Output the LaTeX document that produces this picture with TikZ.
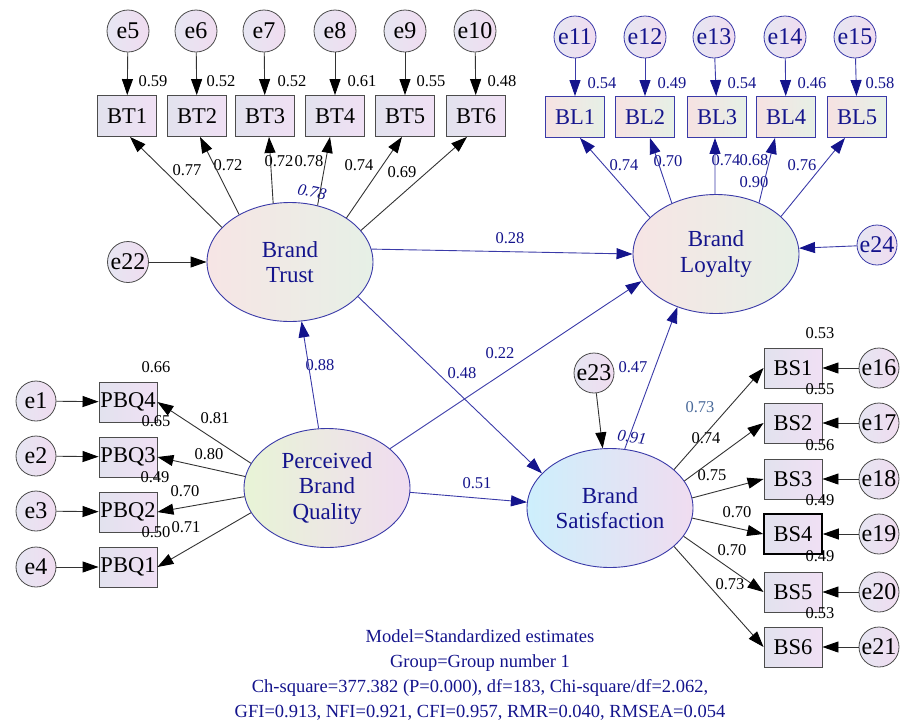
\documentclass[tikz,border=0pt]{standalone}
\usepackage{fontspec}
\setmainfont{Liberation Serif}
\usetikzlibrary{arrows.meta,shapes.geometric}
\definecolor{navy}{HTML}{14148C}
\definecolor{pathblue}{HTML}{3A3AA8}
\definecolor{gline}{HTML}{333333}
\definecolor{bluegray}{HTML}{4A6A9A}
\definecolor{errL}{HTML}{E6E6F2}
\definecolor{errR}{HTML}{F0DCF0}
\definecolor{obsL}{HTML}{E2E2EE}
\definecolor{obsR}{HTML}{F0E0F4}
\definecolor{blL}{HTML}{F6E2E2}
\definecolor{blR}{HTML}{E6F0E6}
\definecolor{pbqL}{HTML}{E8F4D6}
\definecolor{bsL}{HTML}{CDEFFC}
\tikzset{
 err/.style={circle,draw=black!70,line width=0.8pt,minimum size=42pt,inner sep=0pt,left color=errL,right color=errR,font=\fontsize{24}{26}\selectfont},
 errb/.style={err,draw=pathblue,text=navy},
 obs/.style={rectangle,draw=black!70,line width=0.9pt,minimum width=59pt,minimum height=41pt,inner sep=0pt,left color=obsL,right color=obsR,font=\fontsize{22.5}{24}\selectfont},
 obsb/.style={obs,draw=pathblue,text=navy,left color=blL,right color=blR},
 lat/.style={ellipse,draw=pathblue,line width=0.9pt,minimum width=166pt,minimum height=119pt,inner sep=0pt,text=navy,align=center,font=\fontsize{23}{25.5}\selectfont},
 num/.style={font=\fontsize{16.5}{18}\selectfont,inner sep=0pt},
 numb/.style={num,text=navy},
 blk/.style={draw=gline,line width=0.9pt,-{Triangle[length=16pt,width=11pt,color=black]}},
 blu/.style={draw=pathblue,line width=0.9pt,-{Triangle[length=16pt,width=11pt,color=navy]}},
}
\begin{document}
\begin{tikzpicture}[x=1pt,y=-1pt]
\useasboundingbox (0,0) rectangle (906,721);
% latent variables
\node[lat,left color=blL!90!white,right color=blR] (BT) at (290,262) {Brand\\Trust};
\node[lat,left color=blL!90!white,right color=blR] (BL) at (716,254) {Brand\\Loyalty};
\node[lat,left color=pbqL,right color=errR] (PBQ) at (327,488) {Perceived\\Brand\\Quality};
\node[lat,left color=bsL,right color=errR] (BS) at (610,508) {Brand\\Satisfaction};
% brand trust indicators
\foreach \i/\x in {1/127,2/197,3/265,4/335,5/405,6/476}{
  \node[obs] (BT\i) at (\x,116) {BT\i};
}
\foreach \i/\x in {5/128,6/196,7/264,8/335,9/405,10/475}{
  \node[err] (e\i) at (\x,31) {e\i};
}
% brand loyalty indicators
\foreach \i/\x in {1/575,2/645,3/717,4/786,5/857}{
  \node[obsb] (BL\i) at (\x,117) {BL\i};
}
\foreach \i/\x in {11/575,12/645,13/714,14/785,15/855}{
  \node[errb] (e\i) at (\x,37) {e\i};
}
% perceived brand quality indicators
\foreach \i/\y in {4/402,3/457,2/512,1/567}{
  \node[obs,minimum width=58pt,minimum height=40pt] (PBQ\i) at (128,\y) {PBQ\i};
}
\foreach \i/\y in {1/401,2/456,3/511,4/567}{
  \node[err,minimum size=40pt] (e\i) at (36,\y) {e\i};
}
% brand satisfaction indicators
\foreach \i/\y in {1/368,2/423,3/479,5/592,6/647}{
  \node[obs,minimum width=58pt,minimum height=40pt] (BS\i) at (793,\y) {BS\i};
}
\node[obs,minimum width=58pt,minimum height=40pt,draw=black,line width=1.6pt] (BS4) at (793,534) {BS4};
\foreach \i/\y in {16/368,17/423,18/479,19/534,20/592,21/647}{
  \node[err,minimum size=40pt] (e\i) at (879,\y) {e\i};
}
\node[err,minimum size=41pt] (e22) at (128,262) {e22};
\node[err,minimum size=40pt] (e23) at (594,373) {e23};
\node[errb,minimum size=40pt] (e24) at (877,245) {e24};
% labels: brand trust
\node[num] (r5) at (153,81) {0.59};
\node[num] (r6) at (221,81) {0.52};
\node[num] (r7) at (292,81) {0.52};
\node[num] (r8) at (362,81) {0.61};
\node[num] (r9) at (431,81) {0.55};
\node[num] (r10) at (502,81) {0.48};
\node[num] (lb1) at (187,170) {0.77};
\node[num] (lb2) at (228,165) {0.72};
\node[num] (lb3) at (279,161) {0.72};
\node[num] (lb4) at (309,161) {0.78};
\node[num] (lb5) at (359,165) {0.74};
\node[num] (lb6) at (402,172) {0.69};
\node[numb,font=\fontsize{16.5}{18}\selectfont\itshape,rotate=-12] (rbt) at (312,192) {0.78};
% labels: brand loyalty
\node[numb] (r11) at (602,83) {0.54};
\node[numb] (r12) at (672,83) {0.49};
\node[numb] (r13) at (742,83) {0.54};
\node[numb] (r14) at (812,83) {0.46};
\node[numb] (r15) at (880,83) {0.58};
\node[numb] (ll1) at (624,165) {0.74};
\node[numb] (ll2) at (668,161) {0.70};
\node[numb] (ll3) at (726,160) {0.74};
\node[numb] (ll4) at (754,160) {0.68};
\node[numb] (ll5) at (802,165) {0.76};
\node[numb] (rbl) at (754,182) {0.90};
% labels: perceived brand quality
\node[num] (r1) at (156,367) {0.66};
\node[num] (r2) at (156,421) {0.65};
\node[num] (r3) at (155,477) {0.49};
\node[num] (r4) at (156,532) {0.50};
\node[num] (lq4) at (215,418) {0.81};
\node[num] (lq3) at (209,454) {0.80};
\node[num] (lq2) at (185,491) {0.70};
\node[num] (lq1) at (186,527) {0.71};
% labels: brand satisfaction
\node[num] (r16) at (820,333) {0.53};
\node[num] (r17) at (820,389) {0.55};
\node[num] (r18) at (820,445) {0.56};
\node[num] (r19) at (820,500) {0.49};
\node[num] (r20) at (820,556) {0.49};
\node[num] (r21) at (820,613) {0.53};
\node[num,text=bluegray] (ls1) at (700,407) {0.73};
\node[num] (ls2) at (706,438) {0.74};
\node[num] (ls3) at (712,475) {0.75};
\node[num] (ls4) at (737,512) {0.70};
\node[num] (ls5) at (732,550) {0.70};
\node[num] (ls6) at (730,584) {0.73};
% structural labels
\node[numb] (s1) at (320,365) {0.88};
\node[numb] (s2) at (510,238) {0.28};
\node[numb] (s3) at (500,353) {0.22};
\node[numb] (s4) at (462,373) {0.48};
\node[numb] (s5) at (477,483) {0.51};
\node[numb] (s6) at (633,367) {0.47};
\node[numb,font=\fontsize{16.5}{18}\selectfont\itshape,rotate=-8] (rbs) at (632,437) {0.91};
% fit text
\node[text=navy,align=center,font=\fontsize{18.5}{25.3}\selectfont] (fit) at (480,675)
 {Model=Standardized estimates\\Group=Group number 1\\Ch-square=377.382 (P=0.000), df=183, Chi-square/df=2.062,\\GFI=0.913, NFI=0.921, CFI=0.957, RMR=0.040, RMSEA=0.054};
% error arrows
\foreach \i/\j in {5/1,6/2,7/3,8/4,9/5,10/6}{ \draw[blk] (e\i) -- (BT\j); }
\foreach \i/\j in {11/1,12/2,13/3,14/4,15/5}{ \draw[blu] (e\i) -- (BL\j); }
\foreach \i/\j in {1/4,2/3,3/2,4/1}{ \draw[blk] (e\i) -- (PBQ\j); }
\foreach \i/\j in {16/1,17/2,18/3,19/4,20/5,21/6}{ \draw[blk] (e\i) -- (BS\j); }
\draw[blk] (e22) -- (BT.west);
\draw[blk] (e23) -- (BS.97);
\draw[blu] (e24) -- (BL.4);
% loadings
\draw[blk] (BT.153) -- ([xshift=3pt]BT1.south);
\draw[blk] (BT.137) -- ([xshift=3pt]BT2.south);
\draw[blk] (BT.106) -- ([xshift=4pt]BT3.south);
\draw[blk] (BT.64) -- ([xshift=-5pt]BT4.south);
\draw[blk] (BT.38) -- ([xshift=-3pt]BT5.south);
\draw[blk] (BT.24) -- ([xshift=-9pt]BT6.south);
\draw[blu] (BL.151) -- ([xshift=5pt]BL1.south);
\draw[blu] (BL.131) -- ([xshift=5pt]BL2.south);
\draw[blu] (BL.91) -- ([xshift=-2pt]BL3.south);
\draw[blu] (BL.50) -- ([xshift=-11pt]BL4.south);
\draw[blu] (BL.30) -- ([xshift=-12pt]BL5.south);
\draw[blk] (PBQ.162) -- (PBQ4.east);
\draw[blk] (PBQ.172) -- (PBQ3.east);
\draw[blk] (PBQ.186) -- (PBQ2.east);
\draw[blk] (PBQ.198) -- (PBQ1.east);
\draw[blk] (BS.31) -- (BS1.west);
\draw[blk] (BS.20) -- (BS2.west);
\draw[blk] (BS.7) -- (BS3.west);
\draw[blk] (BS.-7) -- (BS4.west);
\draw[blk] (BS.-21) -- (BS5.west);
\draw[blk] (BS.-31) -- (BS6.west);
% structural paths
\draw[blu] (PBQ.98) -- (BT.-79);
\draw[blu] (BT.9) -- (BL.west);
\draw[blu] (PBQ.32) -- (BL.200);
\draw[blu] (BT.-27) -- (BS.153);
\draw[blu] (PBQ.-3) -- (BS.176);
\draw[blu] (BS.76) -- (BL.-126);
\end{tikzpicture}
\end{document}
